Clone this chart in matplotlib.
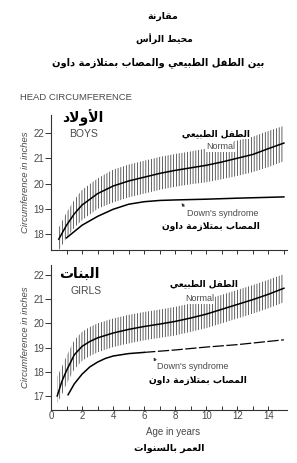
import numpy as np
import matplotlib
matplotlib.use("Agg")
import matplotlib.pyplot as plt

# ---- data ----
boys_age = [0.5, 1, 1.5, 2, 3, 4, 5, 6, 7, 8, 9, 10, 11, 12, 13, 14, 15]
boys_normal = [17.8, 18.35, 18.8, 19.15, 19.6, 19.9, 20.1, 20.25, 20.4, 20.52, 20.62, 20.72, 20.85, 21.0, 21.15, 21.38, 21.6]
boys_low = [17.35, 17.85, 18.25, 18.55, 19.0, 19.25, 19.45, 19.6, 19.75, 19.87, 19.97, 20.05, 20.17, 20.3, 20.45, 20.65, 20.88]
boys_high = [18.25, 18.85, 19.35, 19.75, 20.2, 20.55, 20.75, 20.9, 21.05, 21.17, 21.27, 21.38, 21.52, 21.7, 21.85, 22.08, 22.28]

boys_downs_age = [1, 1.5, 2, 3, 4, 5, 6, 7, 8, 10, 12, 15]
boys_downs = [17.85, 18.1, 18.35, 18.7, 18.98, 19.18, 19.28, 19.33, 19.35, 19.38, 19.42, 19.47]

girls_age = [0.4, 0.7, 1, 1.5, 2, 2.5, 3, 4, 5, 6, 7, 8, 9, 10, 11, 12, 13, 14, 15]
girls_normal = [17.0, 17.6, 18.05, 18.7, 19.05, 19.25, 19.4, 19.6, 19.75, 19.87, 19.97, 20.08, 20.22, 20.38, 20.58, 20.78, 20.98, 21.2, 21.45]
girls_low = [16.7, 17.05, 17.5, 18.1, 18.45, 18.65, 18.8, 19.02, 19.17, 19.3, 19.4, 19.5, 19.65, 19.8, 20.0, 20.2, 20.4, 20.62, 20.87]
girls_high = [17.8, 18.2, 18.65, 19.3, 19.65, 19.85, 20.0, 20.2, 20.35, 20.47, 20.57, 20.68, 20.82, 20.98, 21.18, 21.38, 21.58, 21.8, 22.03]

girls_downs_age = [1.1, 1.5, 2, 2.5, 3, 3.5, 4, 5, 6, 8, 10, 12, 15]
girls_downs = [17.05, 17.5, 17.9, 18.2, 18.4, 18.55, 18.65, 18.75, 18.8, 18.9, 19.02, 19.12, 19.32]

title_lines = ["مقارنة", "محيط الرأس", "بين الطفل الطبيعي والمصاب بمتلازمة داون"]
boys_ar = "الأولاد"
girls_ar = "البنات"
normal_ar = "الطفل الطبيعي"
downs_ar = "المصاب بمتلازمة داون"
xlabel_ar = "العمر بالسنوات"

# ---- minimal arabic shaping (matplotlib has no text shaping) ----
FORMS = {
    'ء': (0xFE80, 1), 'آ': (0xFE81, 2), 'أ': (0xFE83, 2), 'ؤ': (0xFE85, 2), 'إ': (0xFE87, 2),
    'ئ': (0xFE89, 4), 'ا': (0xFE8D, 2), 'ب': (0xFE8F, 4), 'ة': (0xFE93, 2), 'ت': (0xFE95, 4),
    'ث': (0xFE99, 4), 'ج': (0xFE9D, 4), 'ح': (0xFEA1, 4), 'خ': (0xFEA5, 4), 'د': (0xFEA9, 2),
    'ذ': (0xFEAB, 2), 'ر': (0xFEAD, 2), 'ز': (0xFEAF, 2), 'س': (0xFEB1, 4), 'ش': (0xFEB5, 4),
    'ص': (0xFEB9, 4), 'ض': (0xFEBD, 4), 'ط': (0xFEC1, 4), 'ظ': (0xFEC5, 4), 'ع': (0xFEC9, 4),
    'غ': (0xFECD, 4), 'ف': (0xFED1, 4), 'ق': (0xFED5, 4), 'ك': (0xFED9, 4), 'ل': (0xFEDD, 4),
    'م': (0xFEE1, 4), 'ن': (0xFEE5, 4), 'ه': (0xFEE9, 4), 'و': (0xFEED, 2), 'ى': (0xFEEF, 2),
    'ي': (0xFEF1, 4),
}
LAM_ALEF = {'آ': 0xFEF5, 'أ': 0xFEF7, 'إ': 0xFEF9, 'ا': 0xFEFB}


def shape(text):
    units = []
    i = 0
    while i < len(text):
        c = text[i]
        if c == 'ل' and i + 1 < len(text) and text[i + 1] in LAM_ALEF:
            units.append(('LA', text[i + 1]))
            i += 2
        else:
            units.append(('C', c))
            i += 1

    def joinable(u):
        return u is not None and (u[0] == 'LA' or (u[1] in FORMS and FORMS[u[1]][1] > 1))

    out = []
    for k, (kind, c) in enumerate(units):
        prev = units[k - 1] if k > 0 else None
        nxt = units[k + 1] if k + 1 < len(units) else None
        prev_dual = prev is not None and prev[0] == 'C' and prev[1] in FORMS and FORMS[prev[1]][1] == 4
        if kind == 'LA':
            out.append(chr(LAM_ALEF[c] + (1 if prev_dual else 0)))
            continue
        if c not in FORMS:
            out.append(c)
            continue
        base, n = FORMS[c]
        jp = prev_dual and n > 1
        jn = n == 4 and joinable(nxt)
        if n == 1:
            form = 0
        elif jp and jn:
            form = 3
        elif jn:
            form = 2
        elif jp:
            form = 1
        else:
            form = 0
        out.append(chr(base + form))
    return ''.join(reversed(out))


plt.rcParams['font.family'] = ['Liberation Sans', 'DejaVu Sans']
plt.rcParams['hatch.linewidth'] = 0.5

W, H = 297, 463
fig = plt.figure(figsize=(W / 100, H / 100), dpi=100)
fig.patch.set_facecolor('white')

gray = '#4a4a4a'
ar = dict(family='DejaVu Sans', fontweight='bold', color='black')


def fx(x):
    return x / W


def fy(y):
    return 1 - y / H


# titles
fig.text(fx(163), fy(16), shape(title_lines[0]), ha='center', va='center', fontsize=6.8, **ar)
fig.text(fx(164), fy(39), shape(title_lines[1]), ha='center', va='center', fontsize=6.6, **ar)
fig.text(fx(158), fy(63), shape(title_lines[2]), ha='center', va='center', fontsize=7.1, **ar)
fig.text(fx(20), fy(98), "HEAD CIRCUMFERENCE", ha='left', va='center', fontsize=6.8, color=gray)


def style_axes(ax, yticks, labels_x, xdir):
    for s in ['top', 'right']:
        ax.spines[s].set_visible(False)
    for s in ['left', 'bottom']:
        ax.spines[s].set_linewidth(0.8)
        ax.spines[s].set_color('#333333')
    ax.set_xlim(0, 15.2)
    ax.set_yticks(yticks)
    ax.tick_params(axis='y', direction='out', length=4, width=0.7, labelsize=7,
                   labelcolor=gray, color='#333333', pad=1)
    if labels_x:
        ax.set_xticks(np.arange(0, 15, 2))
        ax.set_xticks(np.arange(1, 15, 2), minor=True)
        ax.tick_params(axis='x', which='both', direction=xdir, length=3, width=0.7,
                       labelsize=7, labelcolor=gray, color='#333333', pad=1)
    else:
        ax.set_xticks(np.arange(1, 16, 1))
        ax.tick_params(axis='x', direction=xdir, length=3, width=0.7,
                       labelbottom=False, color='#333333')
    ax.set_ylabel("Circumference in inches", fontsize=6.8, color=gray, style='italic', labelpad=2)
    ax.set_facecolor('none')


# ---- boys ----
ax1 = fig.add_axes([fx(51), fy(250), fx(287) - fx(51), fy(115) - fy(250)])
ax1.set_ylim(17.37, 22.71)
style_axes(ax1, [18, 19, 20, 21, 22], False, 'out')
ax1.fill_between(boys_age, boys_low, boys_high, facecolor='none', edgecolor='#222222',
                 hatch='||||||', linewidth=0)
ax1.plot(boys_age, boys_normal, color='black', lw=1.1, zorder=3)
ax1.plot(boys_downs_age, boys_downs, color='black', lw=1.1, zorder=3)

ax1.text(2.03, 22.59, shape(boys_ar), ha='center', va='center', fontsize=10, **ar)
ax1.text(2.12, 21.96, "BOYS", ha='center', va='center', fontsize=7.5, color=gray)
ax1.text(10.64, 21.96, shape(normal_ar), ha='center', va='center', fontsize=6.4, zorder=5,
         bbox=dict(facecolor='white', edgecolor='none', pad=0.5), **ar)
ax1.text(10.96, 21.45, "Normal", ha='center', va='center', fontsize=6.5, color=gray, zorder=5,
         bbox=dict(facecolor='white', edgecolor='none', pad=0.3))
ax1.text(8.75, 18.83, "Down's syndrome", ha='left', va='center', fontsize=6.5, color=gray)
ax1.annotate('', xy=(8.3, 19.31), xytext=(8.68, 19.0),
             arrowprops=dict(arrowstyle='-|>', lw=0.6, color='#333333', mutation_scale=4))
ax1.text(10.32, 18.32, shape(downs_ar), ha='center', va='center', fontsize=6.6, **ar)

# ---- girls ----
ax2 = fig.add_axes([fx(51), fy(410), fx(287) - fx(51), fy(265) - fy(410)])
ax2.set_ylim(16.42, 22.41)
style_axes(ax2, [17, 18, 19, 20, 21, 22], True, 'in')
ax2.fill_between(girls_age, girls_low, girls_high, facecolor='none', edgecolor='#222222',
                 hatch='||||||', linewidth=0)
ax2.plot(girls_age, girls_normal, color='black', lw=1.1, zorder=3)
gd_age = np.array(girls_downs_age)
gd = np.array(girls_downs)
solid = gd_age <= 6
ax2.plot(gd_age[solid], gd[solid], color='black', lw=1.1, zorder=3)
ax2.plot(gd_age[gd_age >= 6], gd[gd_age >= 6], color='black', lw=0.9, zorder=3,
         dashes=(9, 2))

ax2.text(1.81, 22.04, shape(girls_ar), ha='center', va='center', fontsize=10, **ar)
ax2.text(2.23, 21.34, "GIRLS", ha='center', va='center', fontsize=7.5, color=gray)
ax2.text(9.87, 21.63, shape(normal_ar), ha='center', va='center', fontsize=6.4, zorder=5,
         bbox=dict(facecolor='white', edgecolor='none', pad=0.5), **ar)
ax2.text(9.58, 21.01, "Normal", ha='center', va='center', fontsize=6.5, color=gray, zorder=5,
         bbox=dict(facecolor='white', edgecolor='none', pad=0.3))
ax2.text(6.84, 18.2, "Down's syndrome", ha='left', va='center', fontsize=6.5, color=gray)
ax2.annotate('', xy=(6.52, 18.69), xytext=(6.8, 18.38),
             arrowprops=dict(arrowstyle='-|>', lw=0.6, color='#333333', mutation_scale=4))
ax2.text(9.45, 17.66, shape(downs_ar), ha='center', va='center', fontsize=6.6, **ar)

fig.text(fx(173), fy(432), "Age in years", ha='center', va='center', fontsize=7, color=gray)
fig.text(fx(169), fy(448), shape(xlabel_ar), ha='center', va='center', fontsize=6.8, **ar)

fig.savefig("out.png", dpi=100, facecolor='white')
